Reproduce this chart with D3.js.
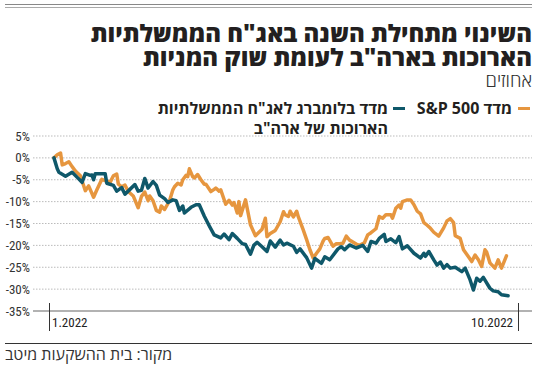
<!DOCTYPE html>
<html>
<head>
<meta charset="utf-8">
<script src="https://cdn.jsdelivr.net/npm/d3@7"></script>
<style>
  body { margin: 0; background: #fff; }
  svg { display: block; }
  .he { font-family: "Open Sans", "Liberation Sans", "DejaVu Sans", sans-serif; }
  .num { font-family: "Liberation Sans Narrow", "Roboto Condensed", Roboto, sans-serif; }
</style>
</head>
<body>
<div id="chart"></div>
<script>
// values, % change since the start of the year
// days are day-of-year 2022 (1 = Jan 1)
const spDays = [3,5,7,8,10,12,14,16,19,22,24,27,29,32,34,37,39,41,42,44,46,48,51,54,56,58,60,61,63,65,67,68,70,73,75,76,78,80,81,83,84,85,87,88,90,92,94,95,98,100,101,103,104,107,109,111,112,114,115,116,119,122,125,129,131,132,134,137,140,142,143,145,146,148,150,151,154,156,158,160,162,164,166,167,169,172,174,176,178,180,182,186,188,191,193,195,198,200,202,204,207,208,210,212,213,214,217,219,221,223,225,227,229,231,233,236,239,241,243,245,246,249,251,254,256,258,260,262,264,265,267,270,272,274,277];
const spValues = [0,0.7,1.1,-1.6,-1.3,-0.9,-2.0,-3.0,-4.1,-7.5,-6.4,-9.0,-7.3,-4.9,-5.2,-5.6,-4.1,-3.7,-6.0,-6.6,-6.2,-7.7,-8.7,-11.4,-8.8,-7.8,-9.8,-8.7,-9.8,-12.0,-12.4,-11.0,-11.8,-9.8,-7.3,-6.6,-5.8,-6.2,-5.0,-4.0,-4.3,-2.5,-4.3,-4.6,-3.8,-5.0,-6.0,-6.0,-7.7,-7.2,-6.9,-7.6,-7.3,-10.6,-9.7,-10.8,-10.2,-12.6,-10.0,-13.2,-9.6,-15.3,-17.8,-16.3,-13.8,-18.0,-17.3,-16.6,-14.6,-12.3,-13.0,-13.4,-12.2,-13.5,-12.2,-13.5,-16.5,-18.7,-21.0,-22.9,-21.8,-20.8,-19.0,-18.4,-18.2,-20.2,-19.6,-19.6,-19.5,-17.9,-18.8,-19.7,-20.0,-19.4,-17.6,-17.1,-16.2,-13.4,-13.8,-13.0,-13.0,-13.8,-11.5,-10.8,-11.5,-10.0,-9.6,-9.6,-10.7,-12.2,-12.8,-14.8,-15.4,-16.1,-17.0,-17.9,-16.0,-14.4,-13.9,-14.8,-17.8,-18.4,-21.0,-22.6,-23.7,-22.2,-23.3,-24.8,-21.0,-21.5,-24.0,-25.2,-23.3,-25.2,-22.4];

const bondDays = [3,5,6,10,14,18,20,22,25,26,27,28,34,35,39,41,44,46,49,52,54,56,58,60,63,65,67,70,72,75,77,79,81,82,86,89,91,94,97,100,104,106,109,111,114,117,119,122,124,126,129,132,134,137,140,142,144,148,150,152,156,159,161,165,167,170,175,177,179,182,186,190,193,195,198,200,203,204,207,210,212,214,217,221,225,227,228,230,233,235,237,239,241,243,246,250,252,255,257,259,261,263,267,269,272,274,278];
const bondValues = [0,-2.5,-3.3,-4.2,-3.3,-4.8,-5.6,-3.6,-4.0,-3.9,-5.0,-3.6,-3.6,-5.8,-6.3,-7.6,-6.8,-8.3,-7.2,-6.1,-7.6,-7.4,-4.7,-6.9,-5.4,-6.3,-8.5,-9.3,-10.2,-9.6,-9.8,-12.0,-11.0,-12.6,-11.3,-10.7,-10.7,-13.3,-15.5,-17.6,-18.3,-17.4,-18.7,-17.3,-18.4,-19.6,-19.8,-22.0,-20.0,-19.3,-20.3,-21.4,-19.0,-20.4,-18.8,-19.9,-19.5,-20.2,-21.6,-20.8,-22.8,-25.2,-23.0,-24.1,-22.6,-23.3,-20.8,-20.3,-21.0,-19.9,-20.6,-20.0,-21.4,-19.1,-19.5,-18.4,-17.5,-19.1,-18.5,-19.4,-18.0,-20.8,-20.1,-21.8,-22.9,-21.8,-22.5,-21.4,-23.3,-24.5,-23.8,-25.2,-24.4,-25.2,-25.0,-26.0,-25.2,-27.9,-30.2,-27.5,-28.2,-27.3,-29.8,-30.4,-30.6,-31.3,-31.5];

const yTicks = [5, 0, -5, -10, -15, -20, -25, -30, -35];
const xTickLabels = ["1.2022", "10.2022"];

const title = ["השינוי מתחילת השנה באג\"ח הממשלתיות", "הארוכות בארה\"ב לעומת שוק המניות"];
const subtitle = "אחוזים";
const legendSp = "מדד S&P 500";
const legendBond = ["מדד בלומברג לאג\"ח הממשלתיות", "הארוכות של ארה\"ב"];
const source = "מקור: בית ההשקעות מיטב";

const ORANGE = "#e6963f";
const TEAL = "#0f586a";

const width = 550, height = 366;
const svg = d3.select("#chart").append("svg")
  .attr("width", width)
  .attr("height", height);

const dayToDate = d => d3.timeDay.offset(new Date(2022, 0, 0), d);

const x = d3.scaleTime()
  .domain([new Date(2021, 11, 31), new Date(2022, 9, 11)])
  .range([49, 518]);

const y = d3.scaleLinear()
  .domain([-35, 5])
  .range([311, 136]);

// top rules
svg.append("line").attr("x1", 5).attr("x2", 532).attr("y1", 4.5).attr("y2", 4.5)
  .attr("stroke", "#888").attr("stroke-width", 1);
svg.append("line").attr("x1", 5).attr("x2", 532).attr("y1", 7.5).attr("y2", 7.5)
  .attr("stroke", "#aaa").attr("stroke-width", 1);

// title
svg.append("g").selectAll("text").data(title).join("text")
  .attr("class", "he")
  .attr("direction", "rtl")
  .attr("text-anchor", "start")
  .attr("x", 532)
  .attr("y", (d, i) => 42 + i * 24)
  .attr("font-size", 24)
  .attr("font-weight", 800)
  .attr("fill", "#231f20")
  .text(d => d);

svg.append("text")
  .attr("class", "he")
  .attr("direction", "rtl")
  .attr("text-anchor", "start")
  .attr("x", 532).attr("y", 87)
  .attr("font-size", 18.5)
  .attr("font-weight", 300)
  .attr("fill", "#333")
  .text(subtitle);

// legend
const legend = svg.append("g");
legend.append("line").attr("x1", 518).attr("x2", 530).attr("y1", 108.5).attr("y2", 108.5)
  .attr("stroke", ORANGE).attr("stroke-width", 3);
legend.append("text")
  .attr("class", "he").attr("direction", "rtl").attr("text-anchor", "start")
  .attr("x", 512).attr("y", 114)
  .attr("font-size", 16).attr("font-weight", 700).attr("fill", "#231f20")
  .text(legendSp);
legend.append("line").attr("x1", 393).attr("x2", 405).attr("y1", 108.5).attr("y2", 108.5)
  .attr("stroke", TEAL).attr("stroke-width", 3);
legend.selectAll("text.bond").data(legendBond).join("text")
  .attr("class", "he bond").attr("direction", "rtl").attr("text-anchor", "start")
  .attr("x", 388).attr("y", (d, i) => 114 + i * 20)
  .attr("font-size", 16).attr("font-weight", 700).attr("fill", "#231f20")
  .text(d => d);

// gridlines
svg.append("g")
  .selectAll("line").data(yTicks.filter(t => t > -35)).join("line")
  .attr("x1", 33).attr("x2", 532)
  .attr("y1", d => y(d)).attr("y2", d => y(d))
  .attr("stroke", "#bbb")
  .attr("stroke-width", 1)
  .attr("stroke-dasharray", "1.5,1.5");

// bottom axis line at -35%
svg.append("line")
  .attr("x1", 33).attr("x2", 532)
  .attr("y1", y(-35)).attr("y2", y(-35))
  .attr("stroke", "#999").attr("stroke-width", 1.5);

// y labels
svg.append("g").selectAll("text").data(yTicks).join("text")
  .attr("class", "num")
  .attr("text-anchor", "end")
  .attr("x", 30)
  .attr("y", d => y(d) + 4.5)
  .attr("font-size", 13)
  .attr("fill", "#333")
  .text(d => d + "%");

// x ticks
const xTicks = x.domain();
svg.append("g").selectAll("line").data(xTicks).join("line")
  .attr("x1", d => Math.round(x(d)) + 0.5).attr("x2", d => Math.round(x(d)) + 0.5)
  .attr("y1", 303).attr("y2", 331)
  .attr("stroke", "#333").attr("stroke-width", 1);
svg.append("g").selectAll("text").data(xTicks).join("text")
  .attr("class", "num")
  .attr("x", (d, i) => i == 0 ? x(d) + 3 : x(d) - 5)
  .attr("y", 327)
  .attr("text-anchor", (d, i) => i == 0 ? "start" : "end")
  .attr("font-size", 13)
  .attr("fill", "#222")
  .text((d, i) => xTickLabels[i]);

// lines
const line = d3.line()
  .x(d => x(dayToDate(d[0])))
  .y(d => y(d[1]));

const spData = spDays.map((d, i) => [d, spValues[i]]);
const bondData = bondDays.map((d, i) => [d, bondValues[i]]);

svg.append("path").datum(spData)
  .attr("d", line)
  .attr("fill", "none")
  .attr("stroke", ORANGE)
  .attr("stroke-width", 3.5)
  .attr("stroke-linejoin", "round")
  .attr("stroke-linecap", "round");

svg.append("path").datum(bondData)
  .attr("d", line)
  .attr("fill", "none")
  .attr("stroke", TEAL)
  .attr("stroke-width", 3.5)
  .attr("stroke-linejoin", "round")
  .attr("stroke-linecap", "round");

// bottom rule + source
svg.append("line").attr("x1", 5).attr("x2", 532).attr("y1", 343.5).attr("y2", 343.5)
  .attr("stroke", "#333").attr("stroke-width", 1);
svg.append("text")
  .attr("class", "he").attr("direction", "rtl").attr("text-anchor", "end")
  .attr("x", 5).attr("y", 360)
  .attr("font-size", 16).attr("fill", "#333")
  .text(source);
</script>
</body>
</html>
